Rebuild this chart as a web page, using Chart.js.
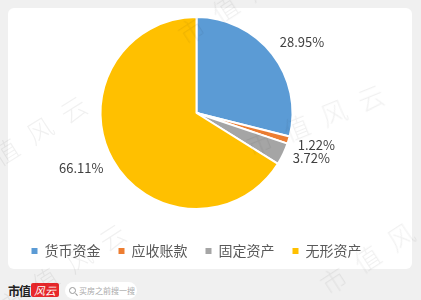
<!DOCTYPE html>
<html>
<head>
<meta charset="utf-8">
<script src="https://cdn.jsdelivr.net/npm/chart.js@4"></script>
<style>
  html, body { margin: 0; padding: 0; }
  body { width: 421px; height: 300px; background: #f0f0f0; position: relative; overflow: hidden; font-family: "Noto Sans CJK SC", sans-serif; }
  .card { position: absolute; left: 8px; top: 8px; width: 404px; height: 261px; background: #fff; border-radius: 6px; }
  .plot { position: absolute; left: 0; top: 0; width: 393px; height: 268px; }
  .footer { position: absolute; left: 8px; top: 281px; height: 18px; display: flex; align-items: center; }
  .brand { font-weight: bold; font-size: 12px; color: #222; letter-spacing: -1px; }
  .logo { background: #e8282b; color: #fff; font-size: 11px; font-style: italic; height: 14px; line-height: 14px; padding: 0 3px; margin-left: 1px; border-radius: 2px; }
  .search { margin-left: 6px; background: #fff; border-radius: 9px; height: 17px; width: 72px; display: flex; align-items: center; font-size: 8px; color: #aaa; }
  .mag { width: 5px; height: 5px; border: 1px solid #999; border-radius: 50%; margin: 0 3px 0 4px; position: relative; }
  .mag:after { content: ''; position: absolute; width: 3px; height: 1px; background: #999; left: 5px; top: 6px; transform: rotate(45deg); }
  .wm { position: absolute; font-size: 26px; color: rgba(0,0,0,0.06); letter-spacing: 14px; white-space: nowrap; transform-origin: left center; pointer-events: none; font-family: "Noto Sans CJK SC"; font-weight: 300; }
</style>
</head>
<body>
<div class="card"></div>
<div class="plot"><canvas id="pie"></canvas></div>
<div class="footer">
  <span class="brand">市值</span><span class="logo">风云</span>
  <span class="search"><span class="mag"></span>买房之前搜一搜</span>
</div>
<div class="wm" style="left:180px;top:18px;transform:rotate(-33deg)">市值风云</div>
<div class="wm" style="left:247px;top:128px;transform:rotate(-22deg)">市值风云</div>
<div class="wm" style="left:-40px;top:160px;transform:rotate(-32deg)">市值风云</div>
<div class="wm" style="left:0px;top:290px;transform:rotate(-33deg)">市值风云</div>
<div class="wm" style="left:322px;top:268px;transform:rotate(-33deg)">市值风云</div>
<script>
const categories = ['货币资金', '应收账款', '固定资产', '无形资产'];
const shares = [28.95, 1.22, 3.72, 66.11];
const colors = ['#5b9bd5', '#ed7d31', '#a5a5a5', '#ffc000'];
// small nudges for the outside labels, like the original's placement
const labelShift = [[6, 6], [-1, -4], [1, -9], [-5, -6]];

// percent labels outside each slice
const sliceLabels = {
    id: 'sliceLabels',
    afterDatasetsDraw(chart) {
        const ctx = chart.ctx;
        const arcs = chart.getDatasetMeta(0).data;
        ctx.save();
        ctx.font = '13px "Noto Sans CJK SC"';
        ctx.fillStyle = '#404040';
        ctx.textAlign = 'center';
        ctx.textBaseline = 'middle';
        arcs.forEach((arc, i) => {
            const p = arc.getProps(['x', 'y', 'startAngle', 'endAngle', 'outerRadius'], true);
            const mid = (p.startAngle + p.endAngle) / 2;
            const r = p.outerRadius + 30;
            const x = p.x + Math.cos(mid) * r + labelShift[i][0];
            const y = p.y + Math.sin(mid) * r + labelShift[i][1];
            ctx.fillText(shares[i].toFixed(2) + '%', x, y);
        });
        ctx.restore();
    }
};

new Chart(document.getElementById('pie'), {
    type: 'pie',
    data: {
        labels: categories,
        datasets: [{
            data: shares,
            backgroundColor: colors,
            borderColor: '#fff',
            borderWidth: 2,
            radius: 96
        }]
    },
    options: {
        responsive: true, maintainAspectRatio: false, animation: false,
        layout: { padding: 0 },
        plugins: {
            tooltip: { enabled: false },
            legend: {
                position: 'bottom',
                labels: {
                    boxWidth: 6, boxHeight: 6, padding: 18, color: '#595959',
                    font: { size: 14, family: '"Noto Sans CJK SC"' },
                    generateLabels: (chart) => Chart.overrides.pie.plugins.legend.labels.generateLabels(chart).map(l => ({ ...l, lineWidth: 0 }))
                }
            }
        }
    },
    plugins: [sliceLabels]
});
</script>
</body>
</html>
